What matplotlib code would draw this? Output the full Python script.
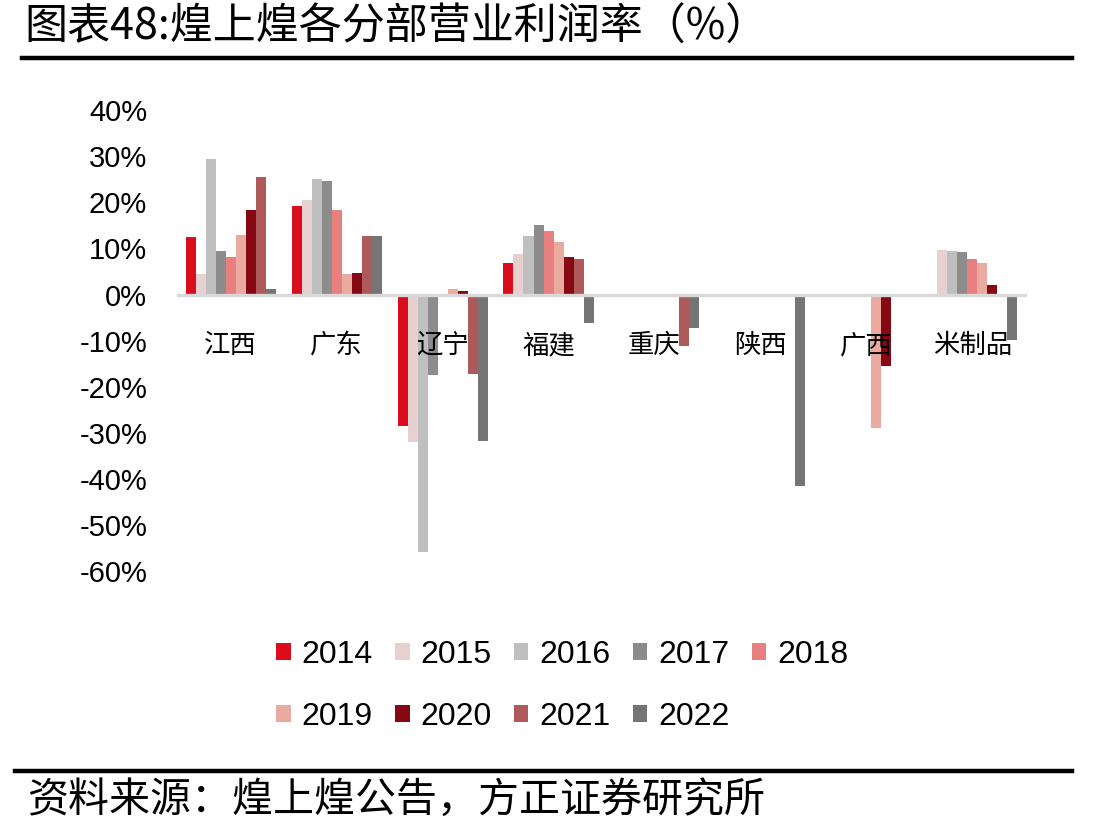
import matplotlib
matplotlib.use("Agg")
import matplotlib.pyplot as plt
import numpy as np

plt.rcParams["font.family"] = ["Noto Sans CJK SC", "DejaVu Sans"]

# 分部 (x categories)
categories = ["江西", "广东", "辽宁", "福建", "重庆", "陕西", "广西", "米制品"]
years = ["2014", "2015", "2016", "2017", "2018", "2019", "2020", "2021", "2022"]

nan = np.nan
# 营业利润率 (%), one list per year, in category order
y2014 = [12.4, 19.3, -28.4, 6.8, nan, nan, nan, nan]
y2015 = [4.4, 20.5, -32.0, 8.9, nan, nan, nan, 9.6]
y2016 = [29.3, 25.0, -55.8, 12.7, nan, nan, nan, 9.4]
y2017 = [9.4, 24.7, -17.4, 15.0, nan, nan, nan, 9.2]
y2018 = [8.1, 18.3, nan, 13.7, nan, nan, nan, 7.8]
y2019 = [13.0, 4.4, 1.2, 11.5, nan, nan, -29.0, 6.8]
y2020 = [18.3, 4.7, 0.7, 8.1, nan, nan, -15.5, 2.1]
y2021 = [25.6, 12.7, -17.3, 7.8, -11.1, nan, nan, nan]
y2022 = [1.2, 12.7, -31.7, -6.2, -7.2, -41.4, nan, -9.8]
series = [y2014, y2015, y2016, y2017, y2018, y2019, y2020, y2021, y2022]

colors = ["#D90D1C", "#E8D0D0", "#BFBFBF", "#8C8C8C", "#E88080",
          "#EBAAA0", "#850812", "#AE5A5A", "#757575"]

yticks = [40, 30, 20, 10, 0, -10, -20, -30, -40, -50, -60]

fig = plt.figure(figsize=(11.18, 8.34), dpi=100)
ax = fig.add_axes([0.159, 0.315, 0.758, 0.553])

x = np.arange(len(categories))
bw = 0.0945
bars = []
for i, (vals, c) in enumerate(zip(series, colors)):
    off = (i - 4) * bw
    b = ax.bar(x + off, vals, width=bw, color=c, label=years[i], zorder=1)
    bars.append(b)

# axis line at zero (set before tick labels, it resets ticks)
for s in ["top", "right", "left"]:
    ax.spines[s].set_visible(False)
ax.spines["bottom"].set_position(("data", 0))
ax.spines["bottom"].set_color("#D9D9D9")
ax.spines["bottom"].set_linewidth(2.4)

ax.set_xlim(-0.5, len(categories) - 0.5)
ax.set_ylim(-60, 40)
ax.set_yticks(yticks)
ax.set_yticklabels([f"{v}%" for v in yticks], fontfamily="Liberation Sans", fontsize=21)
ax.tick_params(axis="y", length=0, pad=22)

ax.set_xticks(x)
ax.set_xticklabels(categories, fontsize=19)
ax.tick_params(axis="x", length=0, pad=27)

# legend in row order (matplotlib fills columns first)
order = [0, 5, 1, 6, 2, 7, 3, 8, 4]
leg = fig.legend([bars[k] for k in order], [years[k] for k in order],
                 ncol=5, loc="center", bbox_to_anchor=(0.503, 0.178),
                 frameon=False, prop={"family": "Liberation Sans", "size": 23},
                 handlelength=0.45, handleheight=0.45, handletextpad=0.34,
                 columnspacing=0.7, labelspacing=1.0)

# title and rules
fig.text(0.022, 0.966, "图表48:煌上煌各分部营业利润率（%）", fontsize=31,
         ha="left", va="center")
fig.add_artist(plt.Line2D([0.02, 0.959], [0.930, 0.930], color="black", lw=3.2))
fig.add_artist(plt.Line2D([0.013, 0.959], [0.076, 0.076], color="black", lw=3.2))
fig.text(0.025, 0.040, "资料来源：煌上煌公告，方正证券研究所", fontsize=29.5,
         ha="left", va="center", style="italic")

fig.savefig("out.png", dpi=100)
